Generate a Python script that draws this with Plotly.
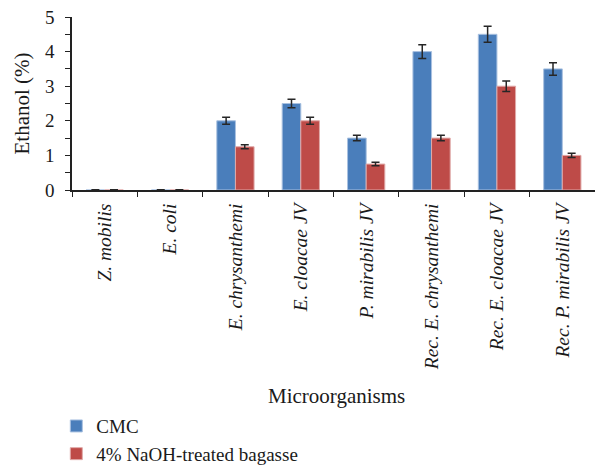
import plotly.graph_objects as go

categories = ["Z. mobilis", "E. coli", "E. chrysanthemi", "E. cloacae JV",
              "P. mirabilis JV", "Rec. E. chrysanthemi", "Rec. E. cloacae JV",
              "Rec. P. mirabilis JV"]
cmc = [0, 0, 2.0, 2.5, 1.5, 4.0, 4.5, 3.5]
cmc_err = [0.01, 0.01, 0.1, 0.12, 0.08, 0.2, 0.23, 0.18]
naoh = [0, 0, 1.25, 2.0, 0.75, 1.5, 3.0, 1.0]
naoh_err = [0.01, 0.01, 0.06, 0.1, 0.05, 0.08, 0.15, 0.06]

FONT = "Liberation Serif, Times New Roman, DejaVu Serif, serif"
BLUE = "#4A7EBB"
RED = "#BE4B48"
TXT = "#1a1a1a"

fig = go.Figure()
fig.add_trace(go.Bar(
    name="CMC", x=categories, y=cmc,
    marker=dict(color=BLUE, line=dict(color="#A9C1E0", width=1)),
    error_y=dict(type="data", array=cmc_err, visible=True, color="#262626",
                 thickness=1.5, width=4),
))
fig.add_trace(go.Bar(
    name="4% NaOH-treated bagasse", x=categories, y=naoh,
    marker=dict(color=RED, line=dict(color="#E0A9A8", width=1)),
    error_y=dict(type="data", array=naoh_err, visible=True, color="#262626",
                 thickness=1.5, width=4),
))

fig.update_layout(
    width=595, height=469,
    margin=dict(l=72, r=0, t=17, b=279, autoexpand=False),
    paper_bgcolor="white", plot_bgcolor="white",
    barmode="group", bargap=0.43, bargroupgap=0,
    font=dict(family=FONT, size=18, color=TXT),
    showlegend=True,
    legend=dict(orientation="v", x=-0.03, xref="paper", y=0.132, yref="container",
                xanchor="left", yanchor="top",
                font=dict(family=FONT, size=19, color=TXT),
                itemwidth=30, tracegroupgap=0, bgcolor="rgba(0,0,0,0)"),
)
fig.update_xaxes(
    type="category", showline=True, linecolor="#222222", linewidth=1.5,
    ticks="outside", tickson="boundaries", ticklen=5, tickcolor="#222222",
    tickangle=-90, ticklabelstandoff=4,
    tickfont=dict(family=FONT, size=19.5, style="italic", color=TXT),
    showgrid=False, zeroline=False, automargin=False,
)
fig.update_yaxes(
    range=[0, 5], dtick=1, showline=True, linecolor="#222222", linewidth=1.5,
    ticks="outside", ticklen=5, tickcolor="#222222", ticklabelstandoff=7,
    minor=dict(dtick=0.5, ticks="outside", ticklen=5, tickcolor="#222222", showgrid=False),
    tickfont=dict(family=FONT, size=19, color=TXT),
    showgrid=False, zeroline=False, automargin=False,
)
fig.add_annotation(text="Microorganisms", xref="paper", yref="paper",
                   x=0.505, y=-1.19, xanchor="center", yanchor="middle",
                   showarrow=False, font=dict(family=FONT, size=21, color=TXT))
fig.add_annotation(text="Ethanol (%)", xref="paper", yref="paper",
                   x=-0.0975, y=0.5, xanchor="center", yanchor="middle", textangle=-90,
                   showarrow=False, font=dict(family=FONT, size=21, color=TXT))

fig.write_html("out.html")
